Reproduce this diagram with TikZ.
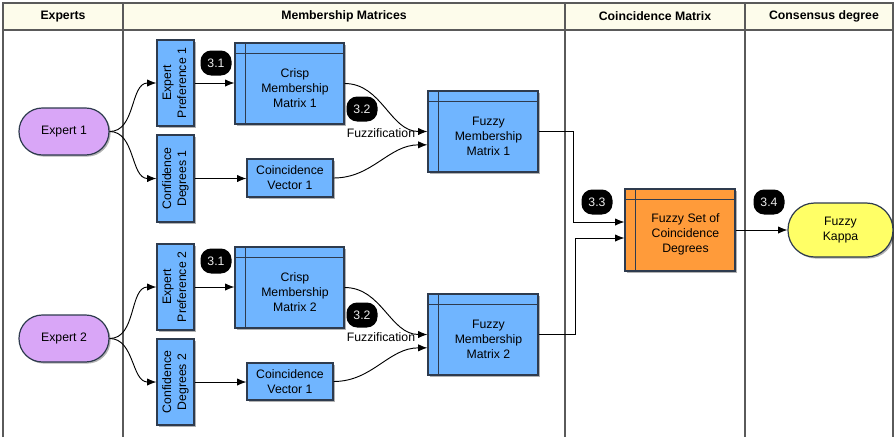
\documentclass[tikz,border=0pt]{standalone}
\usepackage{fontspec}
\setmainfont{Liberation Sans}
\usetikzlibrary{arrows.meta,shadows}
\definecolor{bord}{HTML}{2E3B4E}
\definecolor{boxblue}{HTML}{70B5FF}
\definecolor{boxorange}{HTML}{FF9B3A}
\definecolor{boxyellow}{HTML}{FFFF66}
\definecolor{boxpurple}{HTML}{D9A6F7}
\definecolor{headfill}{HTML}{FDFCEB}
\definecolor{lanegray}{HTML}{5A5A5A}
\newcommand\storelines[1]{%
  \draw[bord,line width=0.8pt] ([xshift=8.25pt]#1.north west) -- ([xshift=8.25pt]#1.south west);
  \draw[bord,line width=0.8pt] ([yshift=-8.25pt]#1.north west) -- ([yshift=-8.25pt]#1.north east);}
\begin{document}
\begin{tikzpicture}[x=0.75pt,y=-0.75pt,
  font=\fontsize{9.2}{11.25}\selectfont,
  shd/.style={drop shadow={shadow xshift=1.2pt,shadow yshift=-1.2pt,opacity=0.3,fill=black}},
  sz/.style 2 args={minimum width=#1*0.75pt,minimum height=#2*0.75pt,inner sep=0pt},
  bluebox/.style={draw=bord,line width=0.9pt,fill=boxblue,shd,align=center},
  orangebox/.style={draw=bord,line width=0.9pt,fill=boxorange,shd,align=center},
  pill/.style={draw=bord,line width=0.9pt,shd,align=center},
  badge/.style={fill=black,text=white!92!black,rounded corners=8pt,sz={31}{25}},
  txt/.style={align=center,inner sep=0pt},
  hd/.style={font=\fontsize{9.2}{11.25}\selectfont\bfseries,inner sep=0pt},
  conn/.style={draw=black,line width=0.7pt,-{Latex[length=7pt,width=5.5pt]}},
  lane/.style={draw=lanegray,line width=1.1pt}
]
\useasboundingbox (0,0) rectangle (894,437);
% header
\fill[headfill] (3,3) rectangle (893,30);
\draw[lane] (3,437) -- (3,3) -- (893,3) -- (893,437);
\draw[lane] (3,30) -- (893,30);
\foreach \xx in {123,565,745} \draw[lane] (\xx,3) -- (\xx,437);
\node[hd] (hd1) at (63,16.5) {Experts};
\node[hd] (hd2) at (344,16.5) {Membership Matrices};
\node[hd] (hd3) at (655,16.5) {Coincidence Matrix};
\node[hd] (hd4) at (824,16.5) {Consensus degree};

% experts
\node[pill,fill=boxpurple,sz={90}{47},rounded corners=17.5pt] (e1) at (64,131.5) {Expert 1};
\node[pill,fill=boxpurple,sz={90}{47},rounded corners=17.5pt] (e2) at (64,338.5) {Expert 2};

% vertical boxes
\node[bluebox,sz={37}{86}] (ep1) at (175.5,83) {\rotatebox{90}{\begin{tabular}{@{}c@{}}Expert\\Preference 1\end{tabular}}};
\node[bluebox,sz={37}{87}] (cd1) at (175.5,178.5) {\rotatebox{90}{\begin{tabular}{@{}c@{}}Confidence\\Degrees 1\end{tabular}}};
\node[bluebox,sz={37}{86}] (ep2) at (175.5,287) {\rotatebox{90}{\begin{tabular}{@{}c@{}}Expert\\Preference 2\end{tabular}}};
\node[bluebox,sz={37}{86}] (cd2) at (175.5,382) {\rotatebox{90}{\begin{tabular}{@{}c@{}}Confidence\\Degrees 2\end{tabular}}};

% crisp matrices
\node[bluebox,sz={109}{81}] (cr1) at (289.5,83.5) {};
\storelines{cr1}
\node[txt] (cr1t) at ([shift={(5.5,5)}]cr1.center) {Crisp\\Membership\\Matrix 1};
\node[bluebox,sz={109}{81}] (cr2) at (289.5,287.5) {};
\storelines{cr2}
\node[txt] (cr2t) at ([shift={(5.5,5)}]cr2.center) {Crisp\\Membership\\Matrix 2};

% coincidence vectors
\node[bluebox,sz={86}{38}] (cv1) at (290,178) {Coincidence\\Vector 1};
\node[bluebox,sz={86}{37}] (cv2) at (290,381.5) {Coincidence\\Vector 1};

% fuzzy matrices
\node[bluebox,sz={110}{81}] (fz1) at (483,131.5) {};
\storelines{fz1}
\node[txt] (fz1t) at ([shift={(5.5,5)}]fz1.center) {Fuzzy\\Membership\\Matrix 1};
\node[bluebox,sz={110}{81}] (fz2) at (483,334.5) {};
\storelines{fz2}
\node[txt] (fz2t) at ([shift={(5.5,5)}]fz2.center) {Fuzzy\\Membership\\Matrix 2};

% fuzzy set
\node[orangebox,sz={110}{82}] (fs) at (680,230) {};
\storelines{fs}
\node[txt] (fst) at ([shift={(5.5,4.5)}]fs.center) {Fuzzy Set of\\Coincidence\\Degrees};

% kappa
\node[pill,fill=boxyellow,sz={105}{54},rounded corners=20pt] (fk) at (840.5,230) {Fuzzy\\Kappa};

% badges
\node[badge] (b31a) at (216,63) {3.1};
\node[badge] (b31b) at (216,261) {3.1};
\node[badge] (b32a) at (362,109) {3.2};
\node[badge] (b32b) at (362,315) {3.2};
\node[badge] (b33) at (597,202) {3.3};
\node[badge] (b34) at (769,202) {3.4};
\node[txt] (fzl1) at (381,133) {Fuzzification};
\node[txt] (fzl2) at (381,337) {Fuzzification};

% connectors
\draw[conn] (e1.east) to[out=0,in=180] (ep1.west);
\draw[conn] (e1.east) to[out=0,in=180] (cd1.west);
\draw[conn] (e2.east) to[out=0,in=180] (ep2.west);
\draw[conn] (e2.east) to[out=0,in=180] (cd2.west);
\draw[conn] (ep1.east) -- (ep1.east -| cr1.west);
\draw[conn] (cd1.east) -- (cd1.east -| cv1.west);
\draw[conn] (ep2.east) -- (ep2.east -| cr2.west);
\draw[conn] (cd2.east) -- (cd2.east -| cv2.west);
\draw[conn] (cr1.east) to[out=0,in=180] (fz1.west);
\draw[conn] (cv1.east) to[out=0,in=180] ([yshift=-10pt]fz1.west);
\draw[conn] (cr2.east) to[out=0,in=180] (fz2.west);
\draw[conn] (cv2.east) to[out=0,in=180] ([yshift=-10pt]fz2.west);
\draw[conn] (fz1.east) -- ++(35,0) |- ([yshift=6pt]fs.west);
\draw[conn] (fz2.east) -- ++(37,0) |- ([yshift=-6pt]fs.west);
\draw[conn] (fs.east) -- (fk.west);
\end{tikzpicture}
\end{document}
